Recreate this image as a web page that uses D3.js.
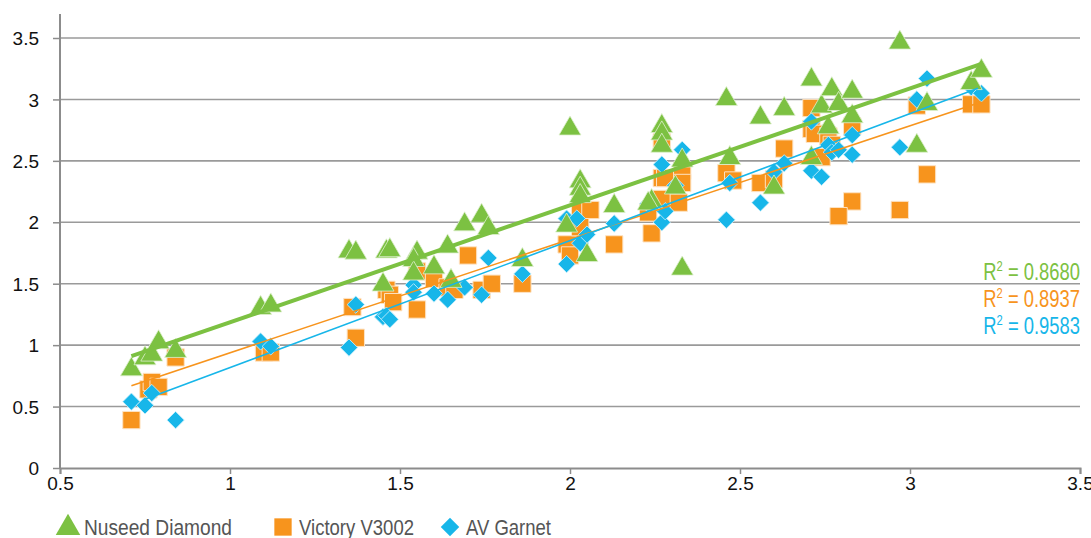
<!DOCTYPE html>
<html>
<head>
<meta charset="utf-8">
<script src="https://cdn.jsdelivr.net/npm/d3@7"></script>
<style>
  body { margin: 0; background: #fff; }
  svg { display: block; }
  .tick text { font-family: "Liberation Sans", Arial, sans-serif; font-size: 19px; fill: #111; }
</style>
</head>
<body>
<div id="chart"></div>
<script>
const width = 1091;
const height = 538;

// data: [x, y]
const nuseedDiamond = [
  [0.71, 0.81], [0.75, 0.90], [0.77, 0.93], [0.79, 1.03], [0.84, 0.96],
  [1.09, 1.31], [1.12, 1.33],
  [1.35, 1.77], [1.37, 1.76], [1.46, 1.77], [1.47, 1.78], [1.45, 1.50],
  [1.55, 1.76], [1.54, 1.70], [1.54, 1.59], [1.60, 1.64], [1.64, 1.81], [1.65, 1.53],
  [1.69, 1.99], [1.74, 2.06], [1.76, 1.96], [1.86, 1.70],
  [2.00, 2.77], [2.03, 2.34], [2.03, 2.28], [2.03, 2.22], [1.99, 1.98], [2.05, 1.74],
  [2.13, 2.14], [2.24, 2.18], [2.23, 2.16], [2.27, 2.79], [2.27, 2.73], [2.27, 2.63],
  [2.33, 2.51], [2.31, 2.29], [2.33, 1.63],
  [2.46, 3.01], [2.47, 2.53], [2.56, 2.86], [2.60, 2.29], [2.63, 2.93],
  [2.71, 3.17], [2.71, 2.53], [2.74, 2.95], [2.76, 2.78], [2.77, 3.09], [2.79, 2.97],
  [2.83, 3.07], [2.83, 2.87],
  [2.97, 3.47], [3.02, 2.63], [3.05, 2.97], [3.18, 3.14], [3.21, 3.24]
];
const victoryV3002 = [
  [0.71, 0.39], [0.76, 0.64], [0.77, 0.70], [0.79, 0.66], [0.84, 0.90],
  [1.10, 0.94], [1.12, 0.94],
  [1.36, 1.31], [1.37, 1.06], [1.46, 1.45], [1.47, 1.41], [1.48, 1.35],
  [1.55, 1.29], [1.55, 1.60], [1.60, 1.54], [1.64, 1.47], [1.66, 1.45],
  [1.70, 1.73], [1.74, 1.45], [1.77, 1.50], [1.86, 1.50],
  [1.99, 1.82], [2.00, 1.73], [2.03, 2.13], [2.06, 2.10], [2.03, 1.96], [2.13, 1.82],
  [2.23, 2.08], [2.24, 1.91], [2.27, 2.65], [2.27, 2.36], [2.28, 2.36], [2.27, 2.19],
  [2.33, 2.42], [2.33, 2.32], [2.32, 2.16],
  [2.46, 2.40], [2.48, 2.34], [2.56, 2.32], [2.60, 2.35], [2.63, 2.60],
  [2.71, 2.93], [2.71, 2.76], [2.72, 2.72], [2.76, 2.70], [2.77, 2.63], [2.74, 2.53],
  [2.83, 2.78], [2.83, 2.17], [2.79, 2.05],
  [2.97, 2.10], [3.02, 2.95], [3.05, 2.39], [3.18, 2.96], [3.21, 2.96]
];
const avGarnet = [
  [0.71, 0.54], [0.75, 0.51], [0.77, 0.61], [0.84, 0.39],
  [1.09, 1.03], [1.12, 0.99],
  [1.35, 0.98], [1.37, 1.33], [1.45, 1.23], [1.46, 1.24], [1.47, 1.21],
  [1.54, 1.49], [1.54, 1.43], [1.60, 1.42], [1.64, 1.37], [1.69, 1.47],
  [1.74, 1.41], [1.76, 1.71], [1.86, 1.58],
  [1.99, 2.03], [2.02, 2.03], [1.99, 1.66], [2.03, 1.83], [2.05, 1.90], [2.13, 1.99],
  [2.23, 2.15], [2.27, 2.47], [2.27, 2.00], [2.28, 2.09], [2.33, 2.59], [2.31, 2.30],
  [2.46, 2.02], [2.47, 2.32], [2.56, 2.16], [2.60, 2.41], [2.63, 2.48],
  [2.71, 2.42], [2.74, 2.37], [2.71, 2.82], [2.76, 2.63], [2.77, 2.57], [2.79, 2.59],
  [2.83, 2.71], [2.83, 2.55],
  [2.97, 2.61], [3.02, 3.00], [3.05, 3.17], [3.18, 3.10], [3.21, 3.05]
];

// trend line end points and R² as shown on the chart
const trendNuseed = [[0.71, 0.91], [3.21, 3.29]];
const trendVictory = [[0.71, 0.67], [3.21, 2.98]];
const trendGarnet = [[0.75, 0.56], [3.20, 3.09]];
const seriesNames = ["Nuseed Diamond", "Victory V3002", "AV Garnet"];
const rSquared = ["0.8680", "0.8937", "0.9583"];

const xTicks = [0.5, 1, 1.5, 2, 2.5, 3, 3.5];
const yTicks = [0, 0.5, 1, 1.5, 2, 2.5, 3, 3.5];

const green = "#7cc142", orange = "#f7941d", blue = "#17b6e9";
const narrowFont = "'Liberation Sans', Arial, sans-serif";

const x = d3.scaleLinear().domain([0.5, 3.5]).range([60, 1080]);
const y = d3.scaleLinear().domain([0, 3.5]).range([468, 38]);

const svg = d3.create("svg")
  .attr("width", width)
  .attr("height", height);

// grid
svg.append("g")
  .selectAll("line")
  .data(yTicks.slice(1))
  .join("line")
    .attr("x1", x(0.5)).attr("x2", x(3.5))
    .attr("y1", d => y(d)).attr("y2", d => y(d))
    .attr("stroke", "#9a9a9a").attr("stroke-width", 1.6);

// axes
const yAxis = svg.append("g")
  .attr("transform", `translate(${x(0.5)},0)`)
  .call(d3.axisLeft(y).tickValues(yTicks).tickFormat(d3.format("")).tickSize(7).tickPadding(14));
yAxis.select(".domain").attr("d", `M0,${y(0)}V14`);
const xAxis = svg.append("g")
  .attr("transform", `translate(0,${y(0)})`)
  .call(d3.axisBottom(x).tickValues(xTicks).tickFormat(d3.format("")).tickSize(6).tickPadding(3));
svg.selectAll(".domain").attr("stroke", "#8c8c8c").attr("stroke-width", 2);
svg.selectAll(".tick line").attr("stroke", "#8c8c8c").attr("stroke-width", 1.5);
yAxis.selectAll(".tick text").attr("dy", "0.35em");
// condensed look for tick labels
svg.selectAll(".tick text")
  .attr("textLength", function() { return this.getComputedTextLength() * 0.82; })
  .attr("lengthAdjust", "spacingAndGlyphs");

// marks
const tri = d3.symbol().type(d3.symbolTriangle).size(210);
const sq = d3.symbol().type(d3.symbolSquare).size(300);
const dia = d3.symbol().type(d3.symbolSquare).size(150);

svg.append("g").selectAll("path")
  .data(victoryV3002)
  .join("path")
    .attr("d", sq)
    .attr("transform", d => `translate(${x(d[0])},${y(d[1])})`)
    .attr("fill", orange).attr("stroke", "#fde3c4").attr("stroke-width", 1);

svg.append("g").selectAll("path")
  .data(avGarnet)
  .join("path")
    .attr("d", dia)
    .attr("transform", d => `translate(${x(d[0])},${y(d[1])}) rotate(45)`)
    .attr("fill", blue).attr("stroke", "#c9eefb").attr("stroke-width", 0.8);

svg.append("g").selectAll("path")
  .data(nuseedDiamond)
  .join("path")
    .attr("d", tri)
    .attr("transform", d => `translate(${x(d[0])},${y(d[1]) + 1})`)
    .attr("fill", green).attr("stroke", "#e0f0d0").attr("stroke-width", 0.8);

// trend lines
const line = d3.line().x(d => x(d[0])).y(d => y(d[1]));
svg.append("path").datum(trendVictory).attr("d", line)
  .attr("stroke", orange).attr("stroke-width", 1.6).attr("fill", "none");
svg.append("path").datum(trendGarnet).attr("d", line)
  .attr("stroke", blue).attr("stroke-width", 1.6).attr("fill", "none");
svg.append("path").datum(trendNuseed).attr("d", line)
  .attr("stroke", green).attr("stroke-width", 4).attr("fill", "none");

// R² labels, squeezed horizontally
const rColors = [green, orange, blue];
const rText = svg.append("g")
  .attr("font-family", narrowFont)
  .attr("font-size", 23)
  .attr("text-anchor", "end")
  .selectAll("text")
  .data(rSquared)
  .join("text")
    .attr("transform", (d, i) => `translate(${x(3.5)},${280 + i * 27}) scale(0.8,1)`)
    .attr("fill", (d, i) => rColors[i]);
rText.append("tspan").text("R");
rText.append("tspan").text("2").attr("font-size", 14).attr("dy", -9);
rText.append("tspan").text(d => " = " + d).attr("dy", 9);

// legend
const legendX = [68, 283, 450];
const legendW = [148, 115, 85];
const legend = svg.append("g")
  .attr("font-family", narrowFont)
  .attr("font-size", 22)
  .attr("fill", "#555");
const legendSyms = [
  d3.symbol().type(d3.symbolTriangle).size(260),
  d3.symbol().type(d3.symbolSquare).size(300),
  d3.symbol().type(d3.symbolSquare).size(170)
];
seriesNames.forEach((name, i) => {
  legend.append("path")
    .attr("d", legendSyms[i])
    .attr("transform", `translate(${legendX[i]},${527 + (i === 0 ? 1 : 0)})` + (i === 2 ? " rotate(45)" : ""))
    .attr("fill", rColors[i]);
  legend.append("text")
    .attr("x", legendX[i] + 16)
    .attr("y", 535)
    .attr("textLength", legendW[i])
    .attr("lengthAdjust", "spacingAndGlyphs")
    .text(name);
});

document.getElementById("chart").appendChild(svg.node());
</script>
</body>
</html>
